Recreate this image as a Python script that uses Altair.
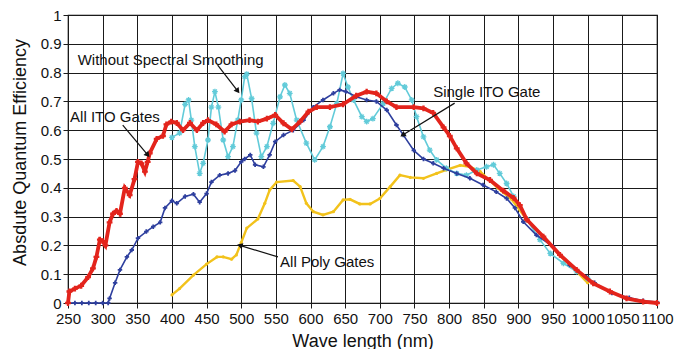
import math
import altair as alt
import pandas as pd

# ---------------- data ----------------
ito_nm = [250, 252, 260, 269, 279, 286, 291, 296, 300, 304, 310, 315, 320, 325, 332, 339, 346, 351,
          356, 361, 365, 368, 378, 387, 392, 399, 407, 416, 426, 436, 445, 452, 464, 476, 486, 498,
          512, 524, 537, 549, 561, 573, 585, 597, 609, 628, 647, 666, 681, 695, 710, 724, 749, 763,
          777, 792, 801, 811, 825, 840, 859, 878, 893, 902, 912, 936, 960, 984, 1008, 1032, 1056,
          1080, 1100]
ito_qe = [0.0, 0.04, 0.05, 0.06, 0.09, 0.12, 0.16, 0.22, 0.215, 0.20, 0.28, 0.31, 0.32, 0.31, 0.40,
          0.375, 0.43, 0.49, 0.485, 0.456, 0.49, 0.52, 0.57, 0.58, 0.62, 0.63, 0.625, 0.60, 0.625,
          0.60, 0.625, 0.635, 0.62, 0.595, 0.62, 0.63, 0.635, 0.63, 0.64, 0.653, 0.624, 0.603, 0.63,
          0.664, 0.68, 0.68, 0.69, 0.72, 0.734, 0.728, 0.70, 0.68, 0.68, 0.676, 0.66, 0.61, 0.58,
          0.537, 0.485, 0.45, 0.427, 0.39, 0.365, 0.34, 0.29, 0.23, 0.167, 0.115, 0.068, 0.04,
          0.016, 0.005, 0.0]

single_nm = [250, 260, 270, 280, 290, 300, 308, 310, 318, 325, 335, 342, 351, 363, 373, 383, 390,
             400, 407, 419, 431, 440, 450, 457, 469, 481, 491, 500, 505, 513, 520, 532, 541, 549,
             561, 575, 590, 604, 618, 633, 642, 651, 666, 681, 695, 710, 724, 734, 749, 763, 777,
             792, 811, 830, 849, 868, 883, 895, 907, 926, 950, 974, 998, 1010, 1035, 1060, 1080, 1100]
single_qe = [0.0, 0.0, 0.0, 0.0, 0.0, 0.0, 0.0, 0.016, 0.07, 0.115, 0.16, 0.184, 0.225, 0.248, 0.265,
             0.28, 0.33, 0.355, 0.346, 0.37, 0.378, 0.35, 0.38, 0.42, 0.444, 0.45, 0.46, 0.49, 0.50,
             0.514, 0.48, 0.473, 0.514, 0.56, 0.583, 0.60, 0.635, 0.68, 0.705, 0.728, 0.74, 0.734,
             0.716, 0.705, 0.70, 0.67, 0.618, 0.583, 0.53, 0.50, 0.485, 0.468, 0.45, 0.433, 0.41,
             0.386, 0.363, 0.33, 0.282, 0.236, 0.196, 0.132, 0.09, 0.07, 0.035, 0.018, 0.008, 0.003]

poly_nm = [400, 411, 431, 450, 465, 474, 486, 493, 500, 508, 524, 534, 541, 551, 575, 585, 594, 604,
           618, 633, 647, 657, 671, 686, 700, 715, 729, 744, 763, 782, 796, 816, 830, 845, 870, 890,
           912, 936, 960, 984, 1000]
poly_qe = [0.028, 0.05, 0.097, 0.135, 0.16, 0.16, 0.152, 0.167, 0.21, 0.26, 0.292, 0.346, 0.392,
           0.42, 0.425, 0.404, 0.346, 0.317, 0.306, 0.317, 0.358, 0.36, 0.344, 0.344, 0.363, 0.404,
           0.444, 0.436, 0.433, 0.45, 0.462, 0.478, 0.473, 0.456, 0.40, 0.36, 0.29, 0.23, 0.165,
           0.11, 0.07]

raw_nm = [400, 411, 419, 424, 428, 433, 440, 445, 452, 457, 462, 467, 474, 481, 488, 495, 500, 505,
          508, 515, 522, 529, 537, 546, 556, 563, 570, 580, 594, 606, 618, 628, 638, 647, 654, 662,
          674, 681, 690, 705, 717, 726, 736, 746, 753, 763, 772, 782, 796, 811, 825, 840, 854, 864,
          873, 883, 893, 912, 931, 946, 965, 984, 1000]
raw_qe = [0.575, 0.59, 0.69, 0.705, 0.635, 0.543, 0.45, 0.485, 0.566, 0.68, 0.734, 0.68, 0.566,
          0.508, 0.543, 0.635, 0.705, 0.786, 0.795, 0.71, 0.59, 0.508, 0.543, 0.624, 0.716, 0.757,
          0.728, 0.635, 0.555, 0.497, 0.543, 0.612, 0.693, 0.797, 0.75, 0.705, 0.647, 0.63, 0.64,
          0.693, 0.745, 0.763, 0.75, 0.705, 0.647, 0.577, 0.531, 0.497, 0.468, 0.45, 0.444, 0.462,
          0.473, 0.48, 0.45, 0.415, 0.37, 0.29, 0.22, 0.172, 0.138, 0.109, 0.085]

x_ticks = [250, 300, 350, 400, 450, 500, 550, 600, 650, 700, 750, 800, 850, 900, 950, 1000, 1050, 1100]
y_ticks = [0, 0.1, 0.2, 0.3, 0.4, 0.5, 0.6, 0.7, 0.8, 0.9, 1]

labels = ["Without Spectral Smoothing", "All ITO Gates", "Single ITO Gate", "All Poly Gates"]
label_nm = [264, 253, 777, 556]
label_qe = [0.844, 0.646, 0.733, 0.142]
arrow_nm = [466, 329, 808, 553]
arrow_qe = [0.826, 0.618, 0.694, 0.160]
arrow_nm2 = [495, 365, 733, 498]
arrow_qe2 = [0.736, 0.514, 0.583, 0.200]

# ---------------- chart ----------------
W, H = 589, 288
FONT = "Liberation Sans"
x_min, x_max = 250, 1100

x_scale = alt.Scale(domain=[x_min, x_max], nice=False, zero=False)
y_scale = alt.Scale(domain=[0, 1], nice=False)
x_axis = alt.Axis(values=x_ticks, title="Wave length (nm)", format="d", labelOverlap=False,
                  labelFlush=False, labelPadding=3, titleY=38, titleBaseline="middle")
y_axis = alt.Axis(values=y_ticks, title="Absdute Quantum Efficiency", format="~g",
                  labelPadding=2, titleX=-48, titleY=137, titleBaseline="middle")


def X(field="nm"):
    return alt.X(f"{field}:Q", scale=x_scale, axis=x_axis)


def Y(field="qe"):
    return alt.Y(f"{field}:Q", scale=y_scale, axis=y_axis)


def frame(nm, qe):
    return pd.DataFrame({"nm": nm, "qe": qe})


STAR = "M-1,0L1,0M0,-1L0,1M-0.7,-0.7L0.7,0.7M-0.7,0.7L0.7,-0.7"


def series(nm, qe, color, width, shape, size, filled, pstroke=1.0):
    df = frame(nm, qe)
    line = alt.Chart(df).mark_line(color=color, strokeWidth=width).encode(x=X(), y=Y())
    pts = alt.Chart(df).mark_point(shape=shape, size=size, filled=filled, color=color,
                                   strokeWidth=pstroke, opacity=1).encode(x=X(), y=Y())
    return line + pts


yellow = series(poly_nm, poly_qe, "#f2c21b", 2.4, "circle", 10, True)
cyan = series(raw_nm, raw_qe, "#62cbd9", 1.6, STAR, 34, False, 1.3)
blue = series(single_nm, single_qe, "#2e3f9e", 1.6, "cross", 20, True)
red = series(ito_nm, ito_qe, "#e3241c", 3.8, "cross", 34, True)

# annotations
ann = pd.DataFrame({"label": labels, "nm": label_nm, "qe": label_qe})
text = alt.Chart(ann).mark_text(align="left", baseline="middle", font=FONT, fontSize=15,
                                color="#111").encode(x=X(), y=Y(), text="label:N")

angles = []
for a, b, c, d in zip(arrow_nm, arrow_qe, arrow_nm2, arrow_qe2):
    dx = (c - a) * W / (x_max - x_min)
    dy = -(d - b) * H
    angles.append(math.degrees(math.atan2(dx, -dy)) % 360)
arr = pd.DataFrame({"nm": arrow_nm, "qe": arrow_qe, "nm2": arrow_nm2, "qe2": arrow_qe2,
                    "angle": angles})
shafts = alt.Chart(arr).mark_rule(color="#111", strokeWidth=1.2).encode(
    x=X(), y=Y(), x2="nm2:Q", y2="qe2:Q")
heads = alt.Chart(arr).mark_point(shape="triangle-up", size=40, filled=True, color="#111",
                                  opacity=1).encode(
    x=X("nm2"), y=Y("qe2"), angle=alt.Angle("angle:Q", scale=None))

chart = alt.layer(yellow, cyan, blue, red, shafts, heads, text).properties(
    width=W, height=H,
    padding={"left": 60, "top": 7, "right": 24, "bottom": 46},
    autosize=alt.AutoSizeParams(type="none"),
).configure_view(stroke="black", strokeWidth=1.2).configure_axis(
    grid=True, gridColor="#1a1a1a", gridOpacity=1, gridWidth=1,
    domain=False, ticks=True, tickSize=5, tickColor="#1a1a1a",
    labelFont=FONT, labelFontSize=15, labelColor="#111",
    titleFont=FONT, titleFontSize=18, titleFontWeight="normal", titleColor="#111",
)

chart.save("out.html", embed_options={"renderer": "svg", "actions": False})
